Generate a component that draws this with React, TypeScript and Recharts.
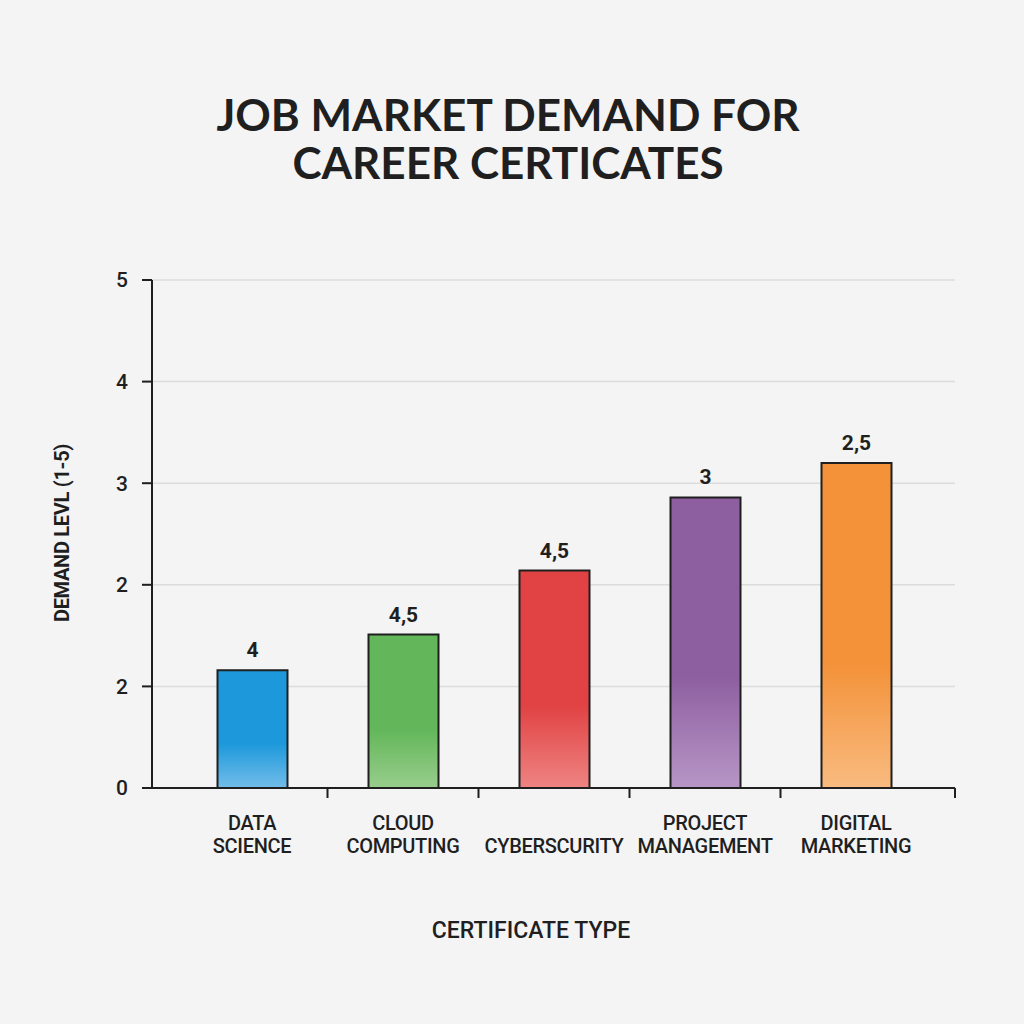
import { BarChart, Bar, XAxis, YAxis, CartesianGrid, Cell, LabelList } from 'recharts'

const categories = ['DATA\nSCIENCE', 'CLOUD\nCOMPUTING', 'CYBERSCURITY', 'PROJECT\nMANAGEMENT', 'DIGITAL\nMARKETING']
const demand = [1.16, 1.51, 2.14, 2.86, 3.2]
const valueLabels = ['4', '4,5', '4,5', '3', '2,5']
const yTicks = [0, 1, 2, 3, 4, 5]
const yTickLabels = ['0', '2', '2', '3', '4', '5']
const topColors = ['#1c98db', '#63b75a', '#e14243', '#8e5fa0', '#f39239']
const bottomColors = ['#72bde9', '#98cd8c', '#ee8483', '#b796c6', '#f9bb80']

const data = categories.map((name, i) => ({ name, value: demand[i], label: valueLabels[i] }))

const INK = '#1f1f1f'
const FONT = 'Roboto, "Noto Sans", sans-serif'

function XTick(props: any) {
  const { x, y, payload, index } = props
  const lines = String(payload.value).split('\n')
  const tickX = index < categories.length - 1 ? x + 75.5 : x + 99
  return (
    <g>
      <line x1={tickX} y1={y} x2={tickX} y2={y + 10} stroke={INK} strokeWidth={2} />
      <text textAnchor="middle" fill={INK} fontFamily={FONT} fontSize={20} fontWeight={500} letterSpacing={-0.3}>
        {lines.map((line, i) => (
          <tspan key={i} x={x} y={y + 65 - (lines.length - 1 - i) * 23}>
            {line}
          </tspan>
        ))}
      </text>
    </g>
  )
}

export default function App() {
  return (
    <div
      style={{
        position: 'absolute',
        left: 0,
        top: 0,
        width: 1024,
        height: 1024,
        background: '#f4f4f4',
        fontFamily: FONT,
      }}
    >
      <div
        style={{
          position: 'absolute',
          top: 90,
          left: 0,
          width: 1016,
          textAlign: 'center',
          fontFamily: 'Lato, sans-serif',
          fontWeight: 700,
          fontSize: 44,
          lineHeight: '48px',
          color: INK,
        }}
      >
        JOB MARKET DEMAND FOR
        <br />
        CAREER CERTICATES
      </div>

      <BarChart
        width={1024}
        height={1024}
        data={data}
        margin={{ top: 280, right: 69, bottom: 206, left: 0 }}
        style={{ position: 'absolute', left: 0, top: 0 }}
      >
        <defs>
          {topColors.map((c, i) => (
            <linearGradient key={i} id={`grad${i}`} x1="0" y1="0" x2="0" y2="1">
              <stop offset="0%" stopColor={c} />
              <stop offset="62%" stopColor={c} />
              <stop offset="100%" stopColor={bottomColors[i]} />
            </linearGradient>
          ))}
        </defs>
        <CartesianGrid vertical={false} stroke="#dcdcdc" strokeWidth={1.5} />
        <XAxis
          dataKey="name"
          height={30}
          padding={{ left: 24.5, right: 23.5 }}
          axisLine={{ stroke: INK, strokeWidth: 2 }}
          tickLine={false}
          tickSize={0}
          tickMargin={0}
          interval={0}
          tick={<XTick />}
        />
        <YAxis
          width={152}
          domain={[0, 5]}
          ticks={yTicks}
          tickFormatter={(v: number) => yTickLabels[v]}
          axisLine={{ stroke: INK, strokeWidth: 2 }}
          tickLine={{ stroke: INK, strokeWidth: 2 }}
          tickSize={10}
          tickMargin={14}
          tick={{ fill: INK, fontSize: 21, fontWeight: 500, fontFamily: FONT }}
        />
        <Bar dataKey="value" barSize={70} stroke={INK} strokeWidth={2} isAnimationActive={false}>
          {data.map((_, i) => (
            <Cell key={i} fill={`url(#grad${i})`} />
          ))}
          <LabelList
            dataKey="label"
            position="top"
            offset={13}
            fill={INK}
            fontSize={21}
            fontWeight={700}
            fontFamily={FONT}
          />
        </Bar>
      </BarChart>

      <div
        style={{
          position: 'absolute',
          left: 62,
          top: 533,
          transform: 'translate(-50%, -50%) rotate(-90deg)',
          whiteSpace: 'nowrap',
          fontSize: 20,
          fontWeight: 700,
          letterSpacing: -0.3,
          color: INK,
        }}
      >
        DEMAND LEVL (1-5)
      </div>

      <div
        style={{
          position: 'absolute',
          left: 531,
          top: 930,
          transform: 'translate(-50%, -50%)',
          whiteSpace: 'nowrap',
          fontSize: 23,
          fontWeight: 500,
          color: INK,
        }}
      >
        CERTIFICATE TYPE
      </div>
    </div>
  )
}
